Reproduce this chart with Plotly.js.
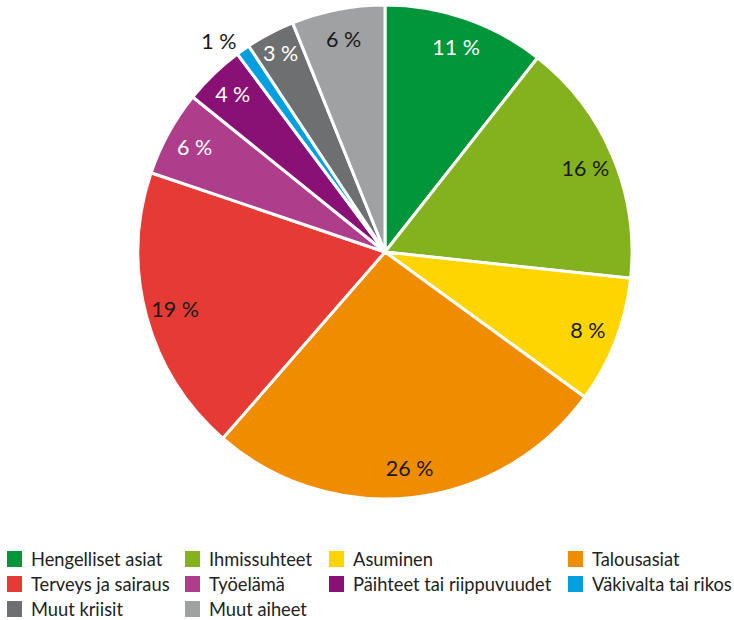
<!DOCTYPE html>
<html>
<head>
<meta charset="utf-8">
<script src="https://cdn.plot.ly/plotly-3.0.1.min.js"></script>
<style>html,body{margin:0;padding:0;background:#fff;}#chart{width:734px;height:620px;}</style>
</head>
<body>
<div id="chart"></div>
<script>
// Data
const categories = ["Hengelliset asiat", "Ihmissuhteet", "Asuminen", "Talousasiat", "Terveys ja sairaus", "Työelämä", "Päihteet tai riippuvuudet", "Väkivalta tai rikos", "Muut kriisit", "Muut aiheet"];
const shares = [10.6, 16.1, 8.3, 26.4, 18.8, 5.6, 4.0, 0.9, 3.2, 6.1];
const colors = ["#009639", "#84B11E", "#FFD500", "#F08C00", "#E63B35", "#AE3E8B", "#891074", "#009FE0", "#6E6F71", "#A0A1A3"];
const labelColors = ["#ffffff", "#1a1a1a", "#1a1a1a", "#1a1a1a", "#1a1a1a", "#ffffff", "#ffffff", "#1a1a1a", "#ffffff", "#1a1a1a"];
const labelPositions = ["inside", "inside", "inside", "inside", "inside", "inside", "inside", "outside", "inside", "inside"];

const FONT = "Lato, 'Open Sans', sans-serif";
const W = 734, H = 620;
const cx = 385, cy = 252, R = 247;
const domain = {x: [(cx - R) / W, (cx + R) / W], y: [1 - (cy + R) / H, 1 - (cy - R) / H]};

const pieMain = {
  type: "pie", values: shares, labels: categories, sort: false, direction: "clockwise", rotation: 0,
  marker: {colors: colors, line: {color: "#ffffff", width: 3}},
  textinfo: "none", domain: domain, showlegend: false, hoverinfo: "label+value"
};
const pieText = {
  type: "pie", values: shares, labels: categories, sort: false, direction: "clockwise", rotation: 0,
  hole: 0.76, marker: {colors: colors.map(() => "rgba(0,0,0,0)"), line: {width: 0}},
  texttemplate: "%{value:.0f} %", textposition: labelPositions, insidetextorientation: "horizontal",
  textfont: {family: FONT, size: 21.5, color: labelColors},
  domain: domain, showlegend: false, hoverinfo: "skip"
};

// Legend (4 columns x 3 rows, same order as slices)
const colX = [7, 185, 329, 568];
const rowY = [559, 584, 609];
const shapes = [], annotations = [];
categories.forEach((c, i) => {
  const col = i % 4, row = Math.floor(i / 4);
  const x0 = colX[col], yc = rowY[row];
  shapes.push({type: "rect", xref: "paper", yref: "paper",
    x0: x0 / W, x1: (x0 + 15) / W, y0: 1 - (yc + 8) / H, y1: 1 - (yc - 8) / H,
    fillcolor: colors[i], line: {width: 0}});
  annotations.push({xref: "paper", yref: "paper", x: (x0 + 22) / W, y: 1 - yc / H,
    xanchor: "left", yanchor: "middle", showarrow: false, text: c,
    font: {family: FONT, size: 18.3, color: "#222222"}});
});

const layout = {
  width: W, height: H, margin: {l: 0, r: 0, t: 0, b: 0},
  paper_bgcolor: "#ffffff", plot_bgcolor: "#ffffff",
  showlegend: false, shapes: shapes, annotations: annotations,
  uniformtext: {mode: "show", minsize: 21.5},
  font: {family: FONT}
};
Plotly.newPlot("chart", [pieMain, pieText], layout, {displayModeBar: false, staticPlot: true});
</script>
</body>
</html>
